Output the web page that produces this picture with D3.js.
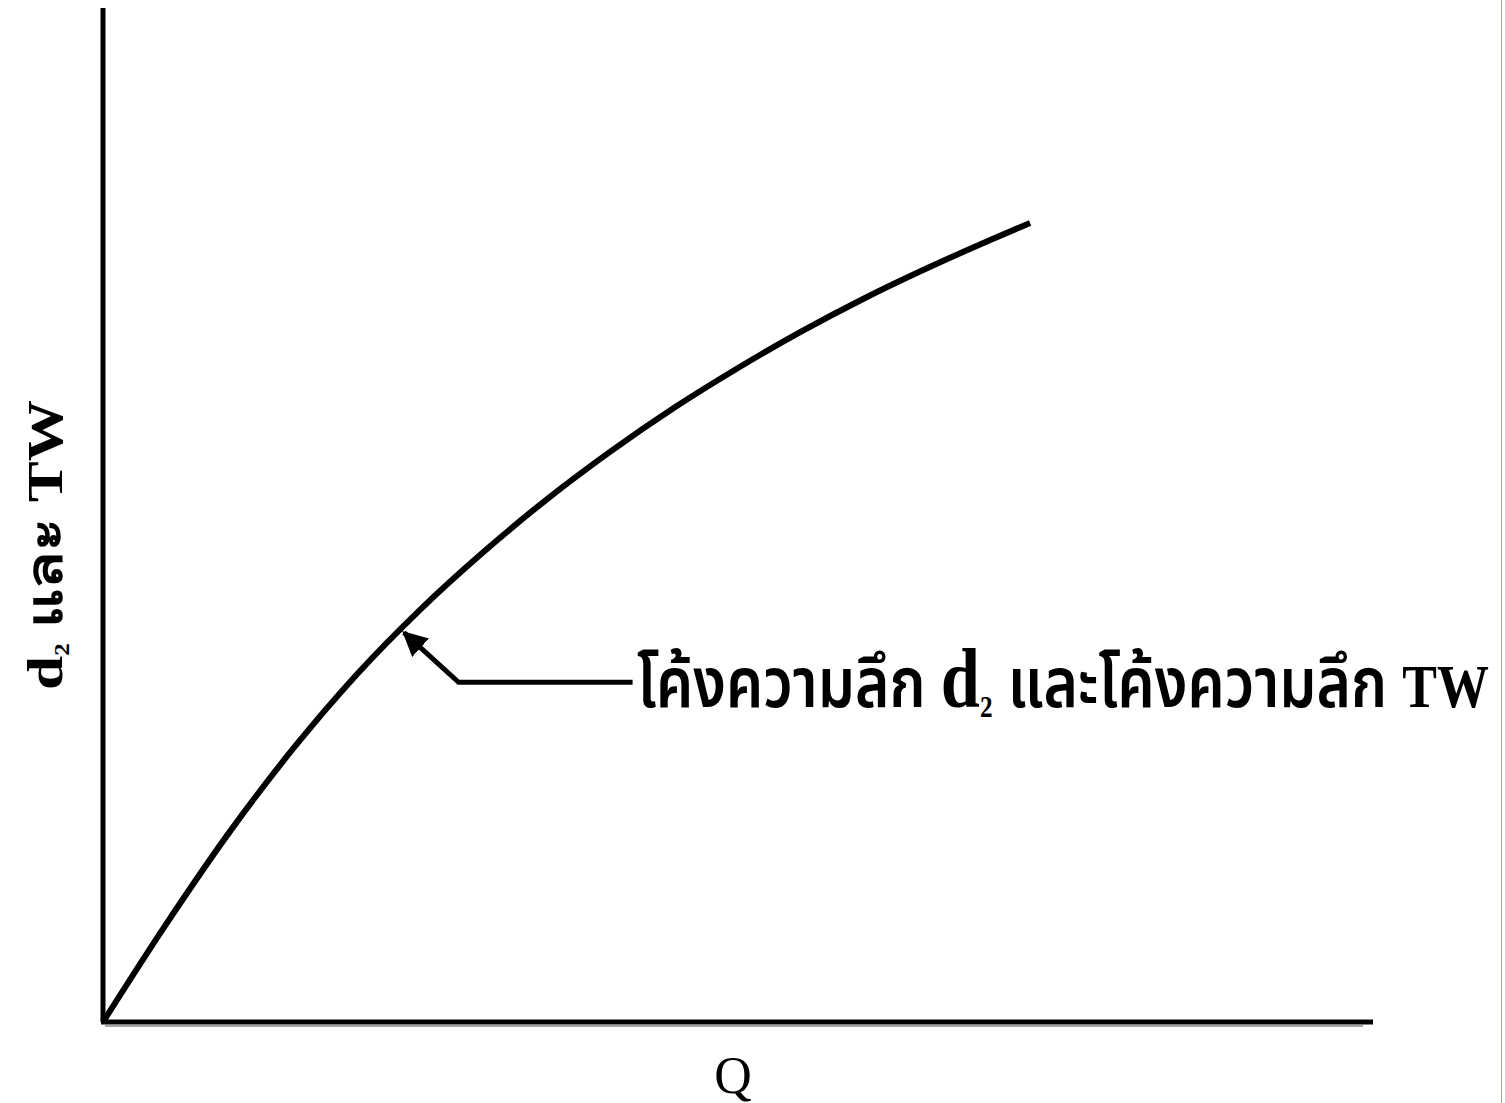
<!DOCTYPE html>
<html>
<head>
<meta charset="utf-8">
<script src="https://cdn.jsdelivr.net/npm/d3@7"></script>
<style>
  body { margin: 0; background: #fff; }
  svg { display: block; }
</style>
</head>
<body>
<svg id="chart"></svg>
<script>
// curve (Q vs depth, arbitrary units)
const qValues     = [0, 0.5, 1.0, 1.5, 2.0, 2.5, 3.0, 3.5, 4.0, 4.5, 5.0, 5.5, 6.0, 6.5, 7.0, 7.3];
const depthValues = [0, 0.97, 1.88, 2.70, 3.43, 4.07, 4.64, 5.16, 5.63, 6.06, 6.45, 6.81, 7.14, 7.44, 7.72, 7.88];

// annotation arrow: end near label, elbow, tip on curve
const arrowQ     = [4.17, 2.80, 2.37];
const arrowDepth = [3.35, 3.35, 3.84];

const xLabel = "Q";
const yLabel = ["d", "₂", " และ TW"];
const curveLabel = ["โค้งความลึก ", "d", "₂", " และโค้งความลึก ", "TW"];

const width = 1505, height = 1103;
const svg = d3.select("#chart")
  .attr("width", width)
  .attr("height", height);

const x = d3.scaleLinear().domain([0, 10]).range([103, 1373]);
const y = d3.scaleLinear().domain([0, 10]).range([1022, 8]);

const pts = qValues.map((q, i) => [q, depthValues[i]]);

// axes, drawn as bare lines
svg.append("line")
  .attr("x1", x(0)).attr("y1", y(0))
  .attr("x2", x(0)).attr("y2", y(10))
  .attr("stroke", "#000").attr("stroke-width", 5);
svg.append("line")
  .attr("x1", x(0) - 2).attr("y1", y(0))
  .attr("x2", x(10)).attr("y2", y(0))
  .attr("stroke", "#000").attr("stroke-width", 5);
svg.append("line")
  .attr("x1", x(0) + 2).attr("y1", y(0) + 4)
  .attr("x2", x(10) - 10).attr("y2", y(0) + 4)
  .attr("stroke", "#888").attr("stroke-width", 1.5);

// right edge border
svg.append("line")
  .attr("x1", 1501.5).attr("y1", 0)
  .attr("x2", 1501.5).attr("y2", height)
  .attr("stroke", "#9fae93").attr("stroke-width", 1);

const line = d3.line()
  .x(d => x(d[0]))
  .y(d => y(d[1]))
  .curve(d3.curveMonotoneX);

svg.append("path")
  .datum(pts)
  .attr("d", line)
  .attr("fill", "none")
  .attr("stroke", "#000")
  .attr("stroke-width", 6);

svg.append("defs").append("marker")
  .attr("id", "arrow")
  .attr("viewBox", "0 0 10 10")
  .attr("refX", 9).attr("refY", 5)
  .attr("markerWidth", 5).attr("markerHeight", 5)
  .attr("markerUnits", "strokeWidth")
  .attr("orient", "auto")
  .append("path")
  .attr("d", "M0,0 L10,5 L0,10 Z")
  .attr("fill", "#000");

svg.append("path")
  .datum(arrowQ.map((q, i) => [q, arrowDepth[i]]))
  .attr("d", d3.line().x(d => x(d[0])).y(d => y(d[1])))
  .attr("fill", "none")
  .attr("stroke", "#000")
  .attr("stroke-width", 5)
  .attr("marker-end", "url(#arrow)");

// label for the curve
const thaiFont = "'Noto Sans Thai', 'Loma', 'Garuda', sans-serif";
const serifFont = "'Liberation Serif', 'Times New Roman', serif";
const cl = svg.append("text")
  .attr("x", 637)
  .attr("y", 707)
  .attr("font-family", thaiFont)
  .attr("font-size", 70)
  .attr("font-weight", 600)
  .attr("textLength", 852)
  .attr("lengthAdjust", "spacingAndGlyphs")
  .attr("fill", "#000");
curveLabel.forEach((s, i) => {
  const t = cl.append("tspan").text(s);
  if (i === 1) t.attr("font-family", serifFont).attr("font-size", 84);
  if (i === 2) t.attr("font-family", serifFont).attr("font-size", 50);
  if (i === 4) t.attr("font-family", serifFont).attr("font-size", 62);
});

// x label
svg.append("text")
  .attr("x", 733)
  .attr("y", 1093)
  .attr("text-anchor", "middle")
  .attr("font-family", serifFont)
  .attr("font-size", 52)
  .text(xLabel);

// y label, rotated
const yl = svg.append("text")
  .attr("transform", "translate(62,545) rotate(-90)")
  .attr("text-anchor", "middle")
  .attr("font-family", serifFont)
  .attr("font-weight", "bold")
  .attr("font-size", 50)
  .attr("textLength", 290)
  .attr("lengthAdjust", "spacingAndGlyphs");
yl.append("tspan").text(yLabel[0]);
yl.append("tspan").attr("font-size", 34).text(yLabel[1]);
yl.append("tspan").text(yLabel[2]);
</script>
</body>
</html>
